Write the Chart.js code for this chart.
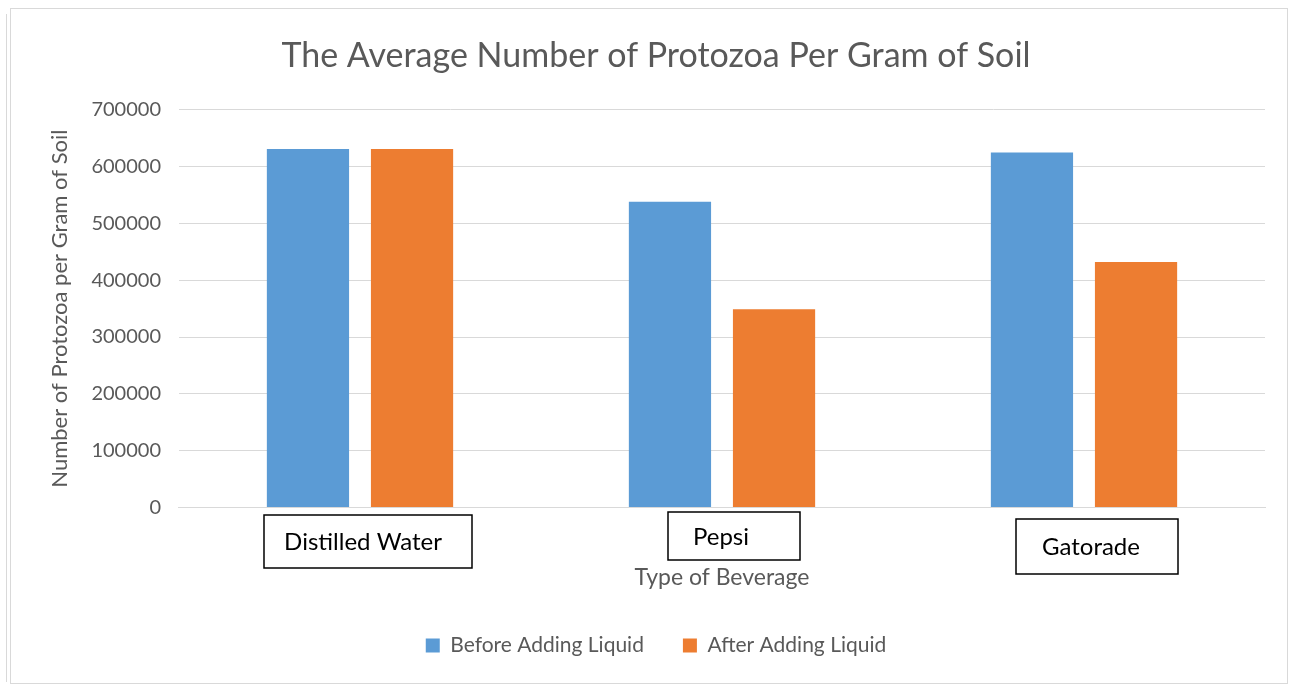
<!DOCTYPE html>
<html>
<head>
<meta charset="utf-8">
<script src="https://cdn.jsdelivr.net/npm/chart.js@4.4.1/dist/chart.umd.min.js"></script>
<style>
  html, body { margin: 0; padding: 0; background: #fff; }
  #wrap { position: relative; width: 1290px; height: 686px; overflow: hidden; }
  #frame { position: absolute; left: 10px; top: 8px; width: 1276px; height: 674px; border: 1px solid #d9d9d9; pointer-events: none; }
  #frame2 { position: absolute; left: 6px; top: 14px; width: 0; height: 668px; border-left: 1px solid #d9d9d9; pointer-events: none; }
</style>
</head>
<body>
<div id="wrap">
  <canvas id="grafico" width="1290" height="686"></canvas>
  <div id="frame"></div>
  <div id="frame2"></div>
</div>
<script>
// Bebidas
const bebidas = ["Distilled Water", "Pepsi", "Gatorade"];

// Protozoários por grama de solo
const antes = [631000, 538000, 625000];
const depois = [631000, 349000, 432000];

const corAntes = "#5b9bd5";
const corDepois = "#ed7d31";
const cinza = "#595959";
const fonte = "Lato, 'Open Sans', sans-serif";

// caixas de texto por cima dos rótulos (deslocamento em relação ao centro da categoria)
const caixas = [
  { dx: 8, top: 515, w: 208, h: 53, tx: -5 },
  { dx: 12, top: 512, w: 132, h: 48, tx: -13 },
  { dx: 13, top: 519, w: 162, h: 55, tx: -6 }
];

const caixasPlugin = {
  id: "caixas",
  afterDraw(chart) {
    const ctx = chart.ctx;
    const x = chart.scales.x;
    ctx.save();
    bebidas.forEach((nome, i) => {
      const c = caixas[i];
      const cx = x.getPixelForValue(i) + c.dx;
      ctx.fillStyle = "#fff";
      ctx.fillRect(cx - c.w / 2, c.top, c.w, c.h);
      ctx.strokeStyle = "#000";
      ctx.lineWidth = 1.5;
      ctx.strokeRect(cx - c.w / 2, c.top, c.w, c.h);
      ctx.fillStyle = "#000";
      ctx.font = "24px " + fonte;
      ctx.textAlign = "center";
      ctx.textBaseline = "middle";
      ctx.fillText(nome, cx + c.tx, c.top + c.h / 2 + 1);
    });
    ctx.restore();
  }
};

new Chart(document.getElementById("grafico"), {
  type: "bar",
  data: {
    labels: bebidas,
    datasets: [
      { label: "Before Adding Liquid", data: antes, backgroundColor: corAntes },
      { label: "After Adding Liquid", data: depois, backgroundColor: corDepois }
    ]
  },
  options: {
    responsive: false,
    animation: false,
    categoryPercentage: 0.575,
    barPercentage: 0.79,
    layout: { padding: { top: 10, left: 47, right: 25, bottom: 20 } },
    plugins: {
      title: {
        display: true,
        text: "The Average Number of Protozoa Per Gram of Soil",
        color: cinza,
        font: { family: fonte, size: 34, weight: "normal" },
        padding: { top: 26, bottom: 33 }
      },
      legend: {
        position: "bottom",
        labels: {
          color: cinza,
          font: { family: fonte, size: 21 },
          boxWidth: 14,
          boxHeight: 14,
          padding: 39
        }
      },
      tooltip: { enabled: false }
    },
    scales: {
      x: {
        grid: { display: false },
        border: { color: "#d9d9d9" },
        ticks: { display: false },
        title: {
          display: true,
          text: "Type of Beverage",
          color: cinza,
          font: { family: fonte, size: 23 },
          padding: { top: 48, bottom: 5 }
        }
      },
      y: {
        min: 0,
        max: 700000,
        ticks: {
          stepSize: 100000,
          color: cinza,
          font: { family: fonte, size: 20 },
          padding: 18,
          callback: (v) => String(v)
        },
        grid: { color: "#d9d9d9", drawTicks: false },
        border: { display: false },
        title: {
          display: true,
          text: "Number of Protozoa per Gram of Soil",
          color: cinza,
          font: { family: fonte, size: 22 },
          padding: { top: 0, bottom: 0 }
        }
      }
    }
  },
  plugins: [caixasPlugin]
});
</script>
</body>
</html>
